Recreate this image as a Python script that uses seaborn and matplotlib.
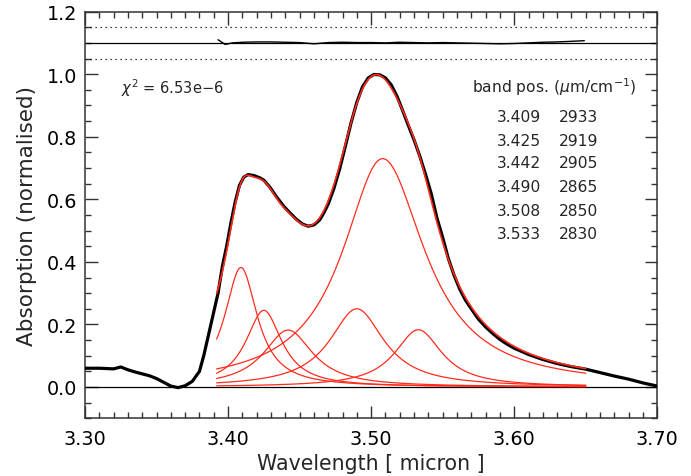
import numpy as np
import pandas as pd
import matplotlib
matplotlib.use("Agg")
import matplotlib.pyplot as plt
import seaborn as sns
from matplotlib.ticker import MultipleLocator, FormatStrFormatter

# ---------------- data ----------------
obs_wl = [3.300, 3.305, 3.310, 3.315, 3.320, 3.325, 3.330, 3.335, 3.340, 3.345,
          3.350, 3.355, 3.360, 3.365, 3.370, 3.375, 3.380, 3.383, 3.386, 3.390,
          3.393, 3.396, 3.399, 3.402, 3.405, 3.408, 3.411, 3.414, 3.418, 3.422,
          3.425, 3.429, 3.434, 3.439, 3.444, 3.448, 3.452, 3.456, 3.460, 3.464,
          3.467, 3.470, 3.474, 3.478, 3.482, 3.486, 3.490, 3.494, 3.498, 3.502,
          3.506, 3.510, 3.514, 3.518, 3.522, 3.526, 3.530, 3.534, 3.538, 3.542,
          3.546, 3.550, 3.554, 3.558, 3.562, 3.566, 3.570, 3.575, 3.580, 3.585,
          3.590, 3.595, 3.600, 3.610, 3.620, 3.630, 3.640, 3.650, 3.660, 3.670,
          3.680, 3.690, 3.700]
obs_abs = [0.060, 0.060, 0.060, 0.059, 0.058, 0.064, 0.055, 0.048, 0.042, 0.036,
           0.027, 0.015, 0.003, -0.002, 0.004, 0.018, 0.050, 0.100, 0.160, 0.240,
           0.300, 0.385, 0.450, 0.525, 0.592, 0.645, 0.671, 0.679, 0.676, 0.669,
           0.661, 0.640, 0.607, 0.577, 0.553, 0.535, 0.521, 0.514, 0.518, 0.534,
           0.557, 0.585, 0.635, 0.697, 0.770, 0.845, 0.910, 0.960, 0.988, 0.999,
           0.998, 0.988, 0.966, 0.930, 0.884, 0.836, 0.790, 0.738, 0.680, 0.618,
           0.540, 0.478, 0.410, 0.357, 0.312, 0.277, 0.250, 0.217, 0.192, 0.171,
           0.152, 0.137, 0.124, 0.104, 0.088, 0.075, 0.065, 0.057, 0.046, 0.035,
           0.025, 0.013, 0.003]

band_um = ["3.409", "3.425", "3.442", "3.490", "3.508", "3.533"]
band_cm = ["2933", "2919", "2905", "2865", "2850", "2830"]
band_peak = [0.382, 0.245, 0.182, 0.250, 0.730, 0.183]
band_hwhm_blue = [0.0139, 0.0154, 0.0210, 0.0232, 0.0340, 0.0202]
band_hwhm_red = [0.0139, 0.0154, 0.0210, 0.0232, 0.0360, 0.0202]
fit_range = [3.392, 3.650]

# residual trace (offset to 1.10)
res_wl = [3.393, 3.398, 3.403, 3.410, 3.420, 3.430, 3.440, 3.450, 3.460, 3.470,
          3.480, 3.490, 3.500, 3.510, 3.520, 3.530, 3.540, 3.550, 3.560, 3.570,
          3.580, 3.590, 3.600, 3.610, 3.620, 3.630, 3.640, 3.649]
res_val = [1.110, 1.095, 1.100, 1.102, 1.103, 1.103, 1.102, 1.101, 1.097, 1.101,
           1.102, 1.101, 1.101, 1.100, 1.102, 1.101, 1.100, 1.101, 1.100, 1.099,
           1.098, 1.097, 1.098, 1.100, 1.102, 1.103, 1.105, 1.107]

chi2_text = r"$\chi^{2}$ = 6.53e$-$6"

# ---------------- plotting ----------------
sns.set_theme(style="ticks")
plt.rcParams['font.family'] = ['DejaVu Sans']
plt.rcParams['mathtext.fontset'] = 'dejavusans'

RED = "#ff2b1c"
fig = plt.figure(figsize=(6.91, 4.77), dpi=100)
ax = fig.add_axes([0.1230, 0.1210, 0.8282, 0.8526])

# band components (Lorentzian profiles built from the read band parameters)
wl = np.linspace(fit_range[0], fit_range[1], 500)
total = np.zeros_like(wl)
comps = []
for c, p, gb, gr in zip(band_um, band_peak, band_hwhm_blue, band_hwhm_red):
    c = float(c)
    g = np.where(wl < c, gb, gr)
    prof = p / (1.0 + ((wl - c) / g) ** 2)
    comps.append(prof)
    total += prof

ax.axhline(0.0, color="black", lw=0.9, zorder=1)
ax.axhline(1.10, color="black", lw=0.9, zorder=1)
for yy in (1.05, 1.15):
    ax.axhline(yy, color="black", lw=0.9, ls=(0, (1, 3)), zorder=1)

obs_df = pd.DataFrame({"wl": obs_wl, "abs": obs_abs})
sns.lineplot(data=obs_df, x="wl", y="abs", color="black", lw=2.3,
             estimator=None, sort=False, ax=ax, zorder=3)

for prof in comps:
    sns.lineplot(x=wl, y=prof, color=RED, lw=0.9, estimator=None,
                 sort=False, ax=ax, zorder=2)
sns.lineplot(x=wl, y=total, color=RED, lw=1.2, estimator=None,
             sort=False, ax=ax, zorder=4)

sns.lineplot(x=res_wl, y=res_val, color="black", lw=1.0, estimator=None,
             sort=False, ax=ax, zorder=3)

ax.set_xlim(3.30, 3.70)
ax.set_ylim(-0.1, 1.2)
ax.xaxis.set_major_locator(MultipleLocator(0.1))
ax.xaxis.set_minor_locator(MultipleLocator(0.01))
ax.yaxis.set_major_locator(MultipleLocator(0.2))
ax.yaxis.set_minor_locator(MultipleLocator(0.05))
ax.xaxis.set_major_formatter(FormatStrFormatter("%.2f"))
ax.yaxis.set_major_formatter(FormatStrFormatter("%.1f"))
ax.tick_params(which="both", direction="in", top=True, right=True,
               color="#333333", width=1.0, labelsize=13.8, labelcolor="black")
ax.tick_params(which="major", length=9)
ax.tick_params(which="minor", length=4.5)
ax.tick_params(axis="x", pad=8)
ax.tick_params(axis="y", pad=5.5)
for s in ax.spines.values():
    s.set_color("#333333")
    s.set_linewidth(1.1)

ax.set_xlabel("Wavelength [ micron ]", fontsize=14.8, labelpad=3)
ax.set_ylabel("Absorption (normalised)", fontsize=15.5, labelpad=7)

ax.text(3.325, 0.959, chi2_text, fontsize=10.5, ha="left", va="center")
ax.text(3.5704, 0.9625, r"band pos. ($\mu$m/cm$^{-1}$)", fontsize=11.2,
        ha="left", va="center")
row_y = [0.8644, 0.7894, 0.717, 0.640, 0.565, 0.490]
for yy, a, b in zip(row_y, band_um, band_cm):
    ax.text(3.5879, yy, a, fontsize=11.2, ha="left", va="center")
    ax.text(3.631, yy, b, fontsize=11.2, ha="left", va="center")

fig.savefig("out.png", dpi=100)
